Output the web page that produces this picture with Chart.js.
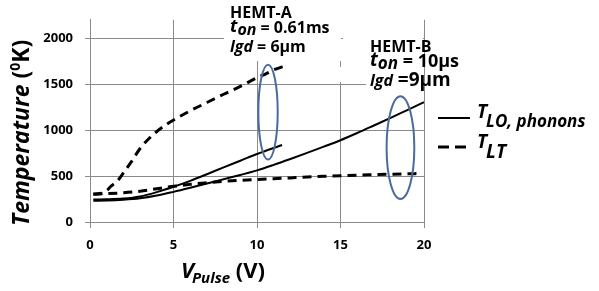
<!DOCTYPE html>
<html>
<head>
<meta charset="utf-8">
<script src="https://cdn.jsdelivr.net/npm/chart.js@4"></script>
<style>
  html, body { margin: 0; padding: 0; background: #fff; }
  #wrap { width: 599px; height: 291px; }
</style>
</head>
<body>
<div id="wrap"><canvas id="temps" width="599" height="291"></canvas></div>
<script>
// HEMT-A, T_LO (solid)
const aLoX = [0.2, 1, 2, 3, 4, 5, 6, 7, 8, 9, 10, 11.5];
const aLoY = [245, 247, 255, 278, 325, 383, 448, 520, 595, 667, 740, 838];
// HEMT-A, T_LT (dashed)
const aLtX = [0.2, 0.8, 1.26, 1.68, 2.04, 2.46, 3.0, 3.6, 4.0, 4.6, 5.1, 6, 7, 8, 9, 10, 10.5, 11, 11.7];
const aLtY = [305, 315, 390, 455, 544, 651, 800, 920, 985, 1065, 1120, 1210, 1300, 1390, 1475, 1570, 1610, 1655, 1700];
// HEMT-B, T_LO (solid)
const bLoX = [0.2, 1, 2, 3, 4, 5, 6, 7, 8, 9, 10, 11, 12, 13, 14, 15, 16, 17, 18, 19, 20];
const bLoY = [232, 234, 242, 258, 288, 328, 372, 418, 465, 512, 562, 622, 686, 752, 820, 890, 968, 1050, 1133, 1218, 1303];
// HEMT-B, T_LT (dashed)
const bLtX = [0.2, 1, 2, 3, 4, 5, 6, 7, 8, 9, 10, 11, 12, 13, 14, 15, 16, 17, 18, 19, 19.7];
const bLtY = [303, 308, 318, 335, 362, 388, 410, 427, 442, 453, 462, 471, 480, 489, 497, 504, 510, 515, 520, 524, 527];

const xTicks = [0, 5, 10, 15, 20];
const yTicks = [0, 500, 1000, 1500, 2000];

// circled groups: [centre V, centre K, half width V, half height K]
const ellipses = [
  [10.66, 1196, 0.58, 516],
  [18.59, 809, 0.83, 559]
];

const FONT = '"Open Sans", Lato, sans-serif';
const W = 'bold ';
const gridGray = '#8a8a8a';
const ringBlue = '#4a6b9c';

function pts(xs, ys) {
  return xs.map((x, i) => ({ x: x, y: ys[i] }));
}

// draws runs of differently styled text one after the other
function richText(ctx, x, y, parts) {
  ctx.textBaseline = 'alphabetic';
  ctx.textAlign = 'left';
  parts.forEach(p => {
    ctx.font = p.font;
    ctx.fillText(p.t, x + (p.dx || 0), y + (p.dy || 0));
    x += ctx.measureText(p.t).width + (p.dx || 0);
  });
}

const coverPlugin = {
  id: 'cover',
  beforeDatasetsDraw(chart) {
    const ctx = chart.ctx;
    ctx.save();
    ctx.fillStyle = '#fff';
    ctx.fillRect(224, 0, 117, 61);
    ctx.fillRect(343, 37, 80, 30);
    ctx.fillRect(338, 67, 85, 15);
    ctx.fillRect(366, 82, 57, 13);
    ctx.restore();
  }
};

const ringPlugin = {
  id: 'rings',
  afterDatasetsDraw(chart) {
    const ctx = chart.ctx;
    const xs = chart.scales.x, ys = chart.scales.y;
    ctx.save();
    ctx.strokeStyle = ringBlue;
    ctx.lineWidth = 2;
    ellipses.forEach(e => {
      const cx = xs.getPixelForValue(e[0]);
      const cy = ys.getPixelForValue(e[1]);
      const rx = xs.getPixelForValue(e[0] + e[2]) - cx;
      const ry = cy - ys.getPixelForValue(e[1] + e[3]);
      ctx.beginPath();
      ctx.ellipse(cx, cy, rx, ry, 0, 0, Math.PI * 2);
      ctx.stroke();
    });
    ctx.restore();
  }
};

const textPlugin = {
  id: 'labels',
  afterDraw(chart) {
    const ctx = chart.ctx;
    ctx.save();
    ctx.fillStyle = '#000';

    // axis titles
    richText(ctx, 181, 278, [
      { t: 'V', font: 'italic ' + W + '22px ' + FONT },
      { t: 'Pulse', font: 'italic ' + W + '15px ' + FONT, dy: 5, dx: -2 },
      { t: ' (V)', font: W + '22px ' + FONT }
    ]);
    ctx.save();
    ctx.translate(29, 226);
    ctx.rotate(-Math.PI / 2);
    richText(ctx, 0, 0, [
      { t: 'Temperature', font: 'italic ' + W + '23px ' + FONT },
      { t: ' (', font: W + '23px ' + FONT },
      { t: '0', font: W + '14px ' + FONT, dy: -9 },
      { t: 'K)', font: W + '23px ' + FONT }
    ]);
    ctx.restore();

    // device notes
    richText(ctx, 230, 18, [{ t: 'HEMT-A', font: W + '16px ' + FONT }]);
    richText(ctx, 230, 33, [
      { t: 't', font: 'italic ' + W + '18px ' + FONT, dy: -1 },
      { t: 'on', font: 'italic ' + W + '16px ' + FONT, dy: 2 },
      { t: ' = 0.61ms', font: W + '16px ' + FONT }
    ]);
    richText(ctx, 230, 52, [
      { t: 'lgd', font: 'italic ' + W + '16px ' + FONT },
      { t: ' = 6\u00b5m', font: W + '16px ' + FONT }
    ]);
    richText(ctx, 370, 52, [{ t: 'HEMT-B', font: W + '16px ' + FONT }]);
    richText(ctx, 370, 67, [
      { t: 't', font: 'italic ' + W + '19px ' + FONT, dy: -1 },
      { t: 'on', font: 'italic ' + W + '17px ' + FONT, dy: 2 },
      { t: ' = 10\u00b5s', font: W + '18px ' + FONT }
    ]);
    richText(ctx, 370, 86, [
      { t: 'lgd', font: 'italic ' + W + '16px ' + FONT },
      { t: ' =9\u00b5m', font: W + '19px ' + FONT }
    ]);

    // legend
    ctx.strokeStyle = '#000';
    ctx.lineWidth = 2;
    ctx.beginPath();
    ctx.moveTo(438, 118);
    ctx.lineTo(470, 118);
    ctx.stroke();
    ctx.lineWidth = 3;
    ctx.setLineDash([11, 6]);
    ctx.beginPath();
    ctx.moveTo(438, 147);
    ctx.lineTo(469, 147);
    ctx.stroke();
    ctx.setLineDash([]);
    richText(ctx, 477, 118, [
      { t: 'T', font: 'italic ' + W + '19px ' + FONT },
      { t: 'LO, phonons', font: 'italic ' + W + '17px ' + FONT, dy: 9, dx: -1 }
    ]);
    richText(ctx, 477, 148, [
      { t: 'T', font: 'italic ' + W + '19px ' + FONT },
      { t: 'LT', font: 'italic ' + W + '19px ' + FONT, dy: 10, dx: -1 }
    ]);
    ctx.restore();
  }
};

function series(label, xs, ys, dashed) {
  return {
    label: label,
    data: pts(xs, ys),
    borderColor: '#000',
    borderWidth: dashed ? 3 : 2,
    borderDash: dashed ? [9, 6] : [],
    pointRadius: 0,
    fill: false,
    cubicInterpolationMode: 'monotone'
  };
}

const tickFont = { family: FONT, size: 13, weight: 'bold' };

const tempConfig = {
  type: 'line',
  data: {
    datasets: [
      series('HEMT-A T_LO', aLoX, aLoY, false),
      series('HEMT-A T_LT', aLtX, aLtY, true),
      series('HEMT-B T_LO', bLoX, bLoY, false),
      series('HEMT-B T_LT', bLtX, bLtY, true)
    ]
  },
  options: {
    responsive: false,
    animation: false,
    layout: { padding: { top: 17, right: 175, left: 0, bottom: 0 } },
    scales: {
      x: {
        type: 'linear',
        min: 0,
        max: 20,
        afterBuildTicks: s => { s.ticks = xTicks.map(v => ({ value: v })); },
        afterFit: s => { s.height = 69; },
        grid: { color: gridGray, tickLength: 6, lineWidth: 1 },
        border: { color: gridGray },
        ticks: { color: '#000', padding: 9, font: tickFont, callback: v => String(v) }
      },
      y: {
        min: 0,
        max: 2200,
        afterBuildTicks: s => { s.ticks = yTicks.map(v => ({ value: v })); },
        afterFit: s => { s.width = 90; },
        grid: { color: gridGray, tickLength: 5, lineWidth: 1 },
        border: { color: gridGray },
        ticks: { color: '#000', padding: 12, font: tickFont, callback: v => String(v) }
      }
    },
    plugins: {
      legend: { display: false },
      tooltip: { enabled: false }
    }
  },
  plugins: [coverPlugin, ringPlugin, textPlugin]
};

new Chart('temps', tempConfig);
</script>
</body>
</html>
